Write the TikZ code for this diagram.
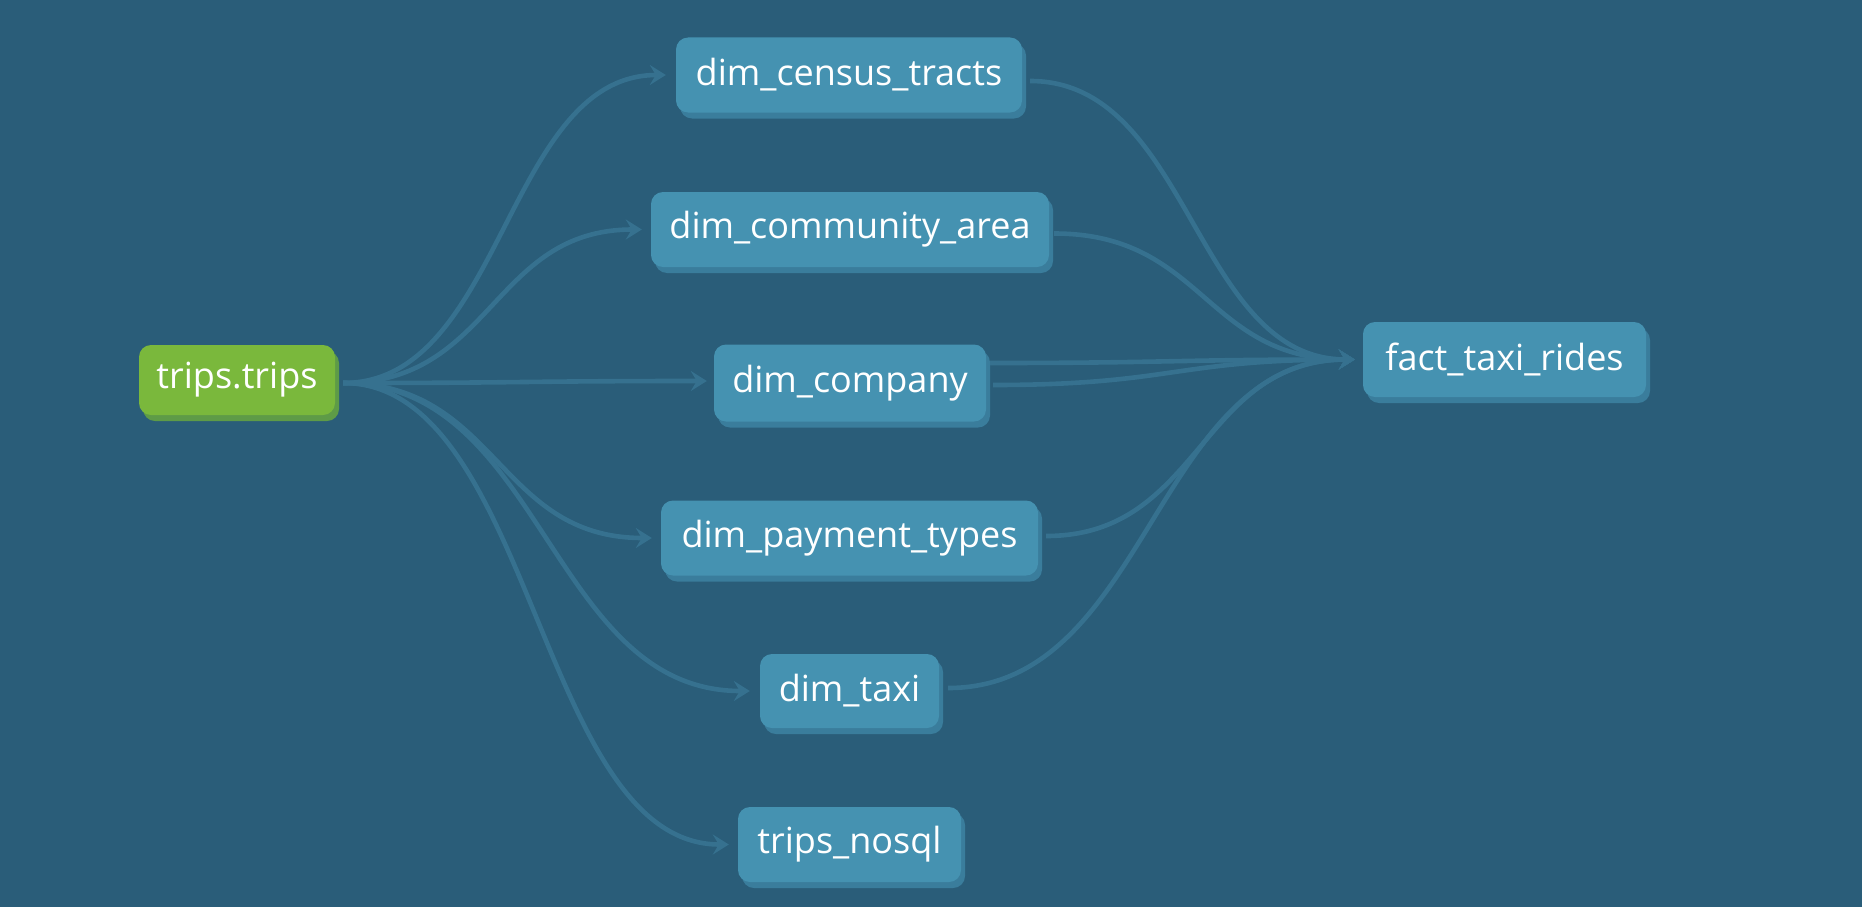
\documentclass[tikz,border=0pt]{standalone}
\usepackage{fontspec}
\setmainfont{Open Sans}
\usetikzlibrary{arrows.meta,shadows}
\definecolor{bg}{HTML}{2A5D79}
\definecolor{nodeblue}{HTML}{4592B1}
\definecolor{shadowblue}{HTML}{3A7D9C}
\definecolor{nodegreen}{HTML}{7AB83C}
\definecolor{shadowgreen}{HTML}{5E9B47}
\definecolor{edgecol}{HTML}{36718F}
\begin{document}
\begin{tikzpicture}[x=1pt,y=-1pt,
  basebox/.style={rounded corners=12pt, text=white, font=\fontsize{36}{42}\selectfont, inner sep=0pt, minimum height=75pt},
  model/.style={basebox, fill=nodeblue, drop shadow={shadow xshift=4pt, shadow yshift=-6pt, opacity=1, fill=shadowblue}},
  source/.style={basebox, fill=nodegreen, drop shadow={shadow xshift=4pt, shadow yshift=-6pt, opacity=1, fill=shadowgreen}},
  edge/.style={draw=edgecol, line width=4.6pt, -{Stealth[length=16pt,width=20pt,inset=6pt]}}
]
\fill[bg] (0,0) rectangle (1862,907);
\useasboundingbox (0,0) rectangle (1862,907);

\node[source, minimum width=196pt, minimum height=70pt] (trips) at (237,380) {trips.trips};
\node[model, minimum width=346pt] (census) at (849,75) {dim\_census\_tracts};
\node[model, minimum width=398pt] (community) at (850,229.5) {dim\_community\_area};
\node[model, minimum width=272pt, minimum height=77pt] (company) at (850,383) {dim\_company};
\node[model, minimum width=377pt] (payment) at (849.5,538) {dim\_payment\_types};
\node[model, minimum width=179pt, minimum height=74pt] (taxi) at (849.5,691) {dim\_taxi};
\node[model, minimum width=223pt] (nosql) at (849.5,844.5) {trips\_nosql};
\node[model, minimum width=283pt] (fact) at (1504.5,359.5) {fact\_taxi\_rides};

% trips -> dims
\draw[edge] ([xshift=8pt,yshift=-3pt]trips.east) .. controls +(160,0) and +(-160,0) .. ([xshift=-10pt]census.west);
\draw[edge] ([xshift=8pt,yshift=-3pt]trips.east) .. controls +(150,0) and +(-150,0) .. ([xshift=-9pt]community.west);
\draw[edge] ([xshift=8pt,yshift=-3pt]trips.east) .. controls +(180,0) and +(-180,0) .. ([xshift=-7pt,yshift=2pt]company.west);
\draw[edge] ([xshift=8pt,yshift=-3pt]trips.east) .. controls +(155,0) and +(-155,0) .. ([xshift=-9pt]payment.west);
\draw[edge] ([xshift=8pt,yshift=-3pt]trips.east) .. controls +(200,0) and +(-200,0) .. ([xshift=-10pt]taxi.west);
\draw[edge] ([xshift=8pt,yshift=-3pt]trips.east) .. controls +(190,0) and +(-190,0) .. ([xshift=-9pt]nosql.west);

% dims -> fact
\draw[edge] ([xshift=8pt,yshift=-6pt]census.east) .. controls +(160,0) and +(-160,0) .. ([xshift=-8pt]fact.west);
\draw[edge] ([xshift=5pt,yshift=-4pt]community.east) .. controls +(150,0) and +(-150,0) .. ([xshift=-8pt]fact.west);
\draw[edge] ([xshift=4pt,yshift=20pt]company.east) .. controls +(180,0) and +(-180,0) .. ([xshift=-8pt]fact.west);
\draw[edge] ([xshift=7pt,yshift=-2pt]company.east) .. controls +(180,0) and +(-180,0) .. ([xshift=-8pt]fact.west);
\draw[edge] ([xshift=8pt,yshift=2pt]payment.east) .. controls +(155,0) and +(-155,0) .. ([xshift=-8pt]fact.west);
\draw[edge] ([xshift=9pt,yshift=3pt]taxi.east) .. controls +(200,0) and +(-200,0) .. ([xshift=-8pt]fact.west);
\end{tikzpicture}
\end{document}
